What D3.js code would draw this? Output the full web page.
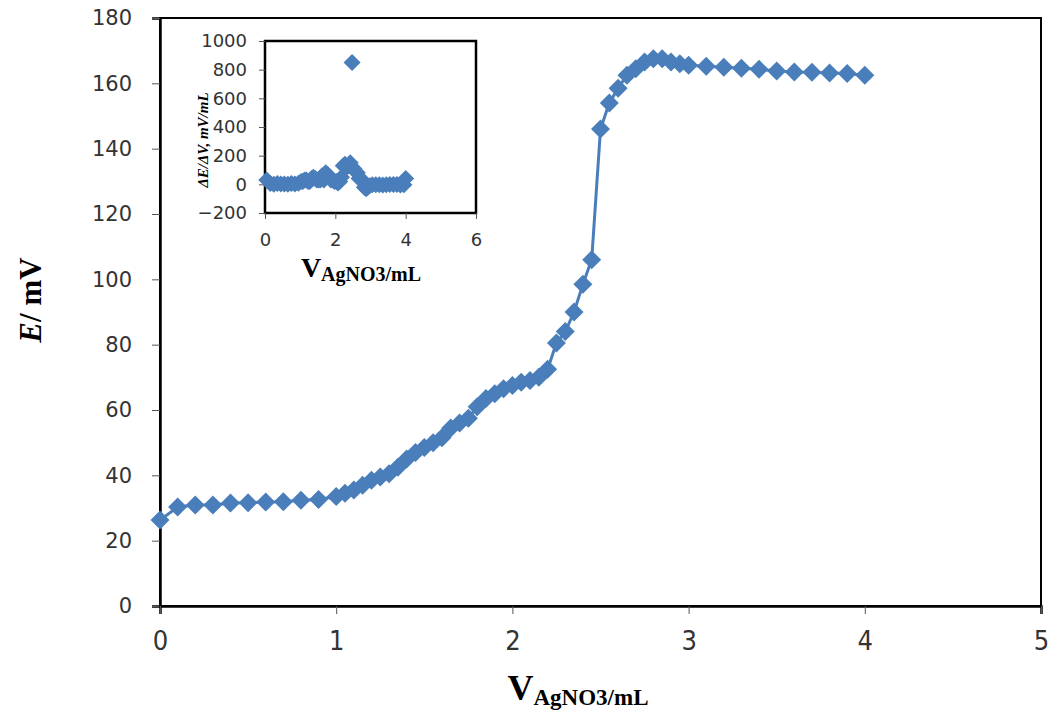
<!DOCTYPE html>
<html><head><meta charset="utf-8">
<script src="https://cdn.jsdelivr.net/npm/d3@7"></script>
<style>body{margin:0;background:#fff}</style>
</head><body>
<script>
// ---- data ----
const volume = [0,0.1,0.2,0.3,0.4,0.5,0.6,0.7,0.8,0.9,1.0,
  1.05,1.1,1.15,1.2,1.25,1.3,1.35,1.4,1.45,1.5,1.55,1.6,1.65,1.7,1.75,1.8,1.85,1.9,1.95,2.0,
  2.05,2.1,2.15,2.2,2.25,2.3,2.35,2.4,2.45,2.5,2.55,2.6,2.65,2.7,2.75,2.8,2.85,2.9,2.95,3.0,
  3.1,3.2,3.3,3.4,3.5,3.6,3.7,3.8,3.9,4.0];
const potential = [26.3,30.3,30.9,30.9,31.5,31.6,31.8,31.9,32.4,32.6,33.5,
  34.5,35.5,37,38.5,39.5,40.5,42.5,45,47,48.5,50,51.5,54.5,56,57.5,61,63.5,65,66.5,67.5,
  68.5,69,70,72.5,80.5,84,90,98.5,106,146,154,158.5,162.5,164.5,166.5,167.5,167.5,166.5,166,165.5,
  165.2,164.9,164.6,164.3,163.8,163.5,163.4,163.2,163,162.5];
const derivVolume = [0.05,0.15,0.25,0.35,0.45,0.55,0.65,0.75,0.85,0.95,
  1.025,1.075,1.125,1.175,1.225,1.275,1.325,1.375,1.425,1.475,1.525,1.575,1.625,1.675,1.725,1.775,1.825,1.875,1.925,1.975,
  2.025,2.075,2.125,2.175,2.225,2.275,2.325,2.375,2.425,2.475,2.525,2.575,2.625,2.675,2.725,2.775,2.825,2.875,2.925,2.975,
  3.05,3.15,3.25,3.35,3.45,3.55,3.65,3.75,3.85,3.95,4.0];
const derivative = [30,5,0,5,3,3,0,6,3,7,
  20,20,30,30,20,20,40,50,40,30,30,30,60,30,80,70,50,30,30,20,
  20,10,20,50,130,140,120,130,150,850,110,90,80,40,40,20,-20,-30,-20,-10,
  -3,-3,-3,-5,-3,-1,-2,-2,-5,-3,40];
const mainXTicks = [0,1,2,3,4,5];
const mainYTicks = [0,20,40,60,80,100,120,140,160,180];
const insetXTicks = [0,2,4,6];
const insetYTicks = [-200,0,200,400,600,800,1000];

const W = 1054, H = 717, BLUE = "#4a7ebb";
const svg = d3.select("body").append("svg").attr("width", W).attr("height", H);
svg.append("rect").attr("width", W).attr("height", H).attr("fill", "#fff");

const diamond = r => `M0,${-r}L${r},0L0,${r}L${-r},0Z`;

// ---- main chart ----
const x = d3.scaleLinear().domain([0,5]).range([160,1041]);
const y = d3.scaleLinear().domain([0,180]).range([606,18]);

svg.append("rect").attr("x", x(0)).attr("y", y(180)).attr("width", x(5)-x(0)).attr("height", y(0)-y(180))
  .attr("fill","none").attr("stroke","#000").attr("stroke-width",2);

const yAx = svg.append("g").attr("transform", `translate(${x(0)},0)`)
  .call(d3.axisLeft(y).tickValues(mainYTicks).tickSize(8).tickPadding(20));
yAx.select(".domain").attr("stroke","#000").attr("stroke-width",2.5);
yAx.selectAll(".tick line").attr("stroke","#555");
yAx.selectAll(".tick text").attr("font-family","DejaVu Sans").attr("font-size",21).attr("fill","#333");

const xAx = svg.append("g").attr("transform", `translate(0,${y(0)})`)
  .call(d3.axisBottom(x).tickValues(mainXTicks).tickSize(8).tickPadding(17).tickFormat(d3.format("d")));
xAx.select(".domain").attr("stroke","#000").attr("stroke-width",2.5);
xAx.selectAll(".tick line").attr("stroke","#555");
xAx.selectAll(".tick text").attr("font-family","DejaVu Sans Condensed").attr("font-size",27).attr("fill","#333");

const pts = volume.map((v,i)=>[v, potential[i]]);
svg.append("path").datum(pts)
  .attr("d", d3.line().x(d=>x(d[0])).y(d=>y(d[1])))
  .attr("fill","none").attr("stroke",BLUE).attr("stroke-width",3);
svg.append("g").selectAll("path").data(pts).join("path")
  .attr("transform", d=>`translate(${x(d[0])},${y(d[1])})`)
  .attr("d", diamond(9.5)).attr("fill",BLUE);

// axis titles
const yt = svg.append("text").attr("transform","translate(41,300) rotate(-90)")
  .attr("text-anchor","middle").attr("font-family","Liberation Serif").attr("font-weight","bold").attr("font-size",31);
yt.append("tspan").attr("font-style","italic").text("E");
yt.append("tspan").text("/ mV");

const xt = svg.append("text").attr("x",578).attr("y",700).attr("text-anchor","middle")
  .attr("font-family","Liberation Serif").attr("font-weight","bold");
xt.append("tspan").attr("font-size",36).text("V");
xt.append("tspan").attr("font-size",23).attr("dy",5).text("AgNO3/mL");

// ---- inset ----
const xi = d3.scaleLinear().domain([0,6]).range([265,476]);
const yi = d3.scaleLinear().domain([-200,1000]).range([213,41]);

svg.append("rect").attr("x", xi(0)).attr("y", yi(1000)).attr("width", xi(6)-xi(0)).attr("height", yi(-200)-yi(1000))
  .attr("fill","#fff").attr("stroke","#000").attr("stroke-width",2.5);

const yiAx = svg.append("g").attr("transform", `translate(${xi(0)},0)`)
  .call(d3.axisLeft(yi).tickValues(insetYTicks).tickSize(6).tickPadding(12).tickFormat(d3.format("d")));
yiAx.select(".domain").remove();
yiAx.selectAll(".tick line").attr("stroke","#555");
yiAx.selectAll(".tick text").attr("font-family","DejaVu Sans").attr("font-size",18).attr("fill","#333");

const xiAx = svg.append("g").attr("transform", `translate(0,${yi(-200)})`)
  .call(d3.axisBottom(xi).tickValues(insetXTicks).tickSize(6).tickPadding(14).tickFormat(d3.format("d")));
xiAx.select(".domain").remove();
xiAx.selectAll(".tick line").attr("stroke","#555");
xiAx.selectAll(".tick text").attr("font-family","DejaVu Sans").attr("font-size",18).attr("fill","#333");

const ipts = derivVolume.map((v,i)=>[v, derivative[i]]);
svg.append("g").selectAll("path").data(ipts).join("path")
  .attr("transform", d=>`translate(${xi(d[0])},${yi(d[1])})`)
  .attr("d", diamond(8.5)).attr("fill",BLUE);

svg.append("text").attr("transform","translate(208,140) rotate(-90)")
  .attr("text-anchor","middle").attr("font-family","Liberation Serif").attr("font-weight","bold")
  .attr("font-style","italic").attr("font-size",15).text("ΔE/ΔV, mV/mL");

const ixt = svg.append("text").attr("x",361).attr("y",277).attr("text-anchor","middle")
  .attr("font-family","Liberation Serif").attr("font-weight","bold");
ixt.append("tspan").attr("font-size",28).text("V");
ixt.append("tspan").attr("font-size",20).attr("dy",4).text("AgNO3/mL");
</script>
</body></html>
